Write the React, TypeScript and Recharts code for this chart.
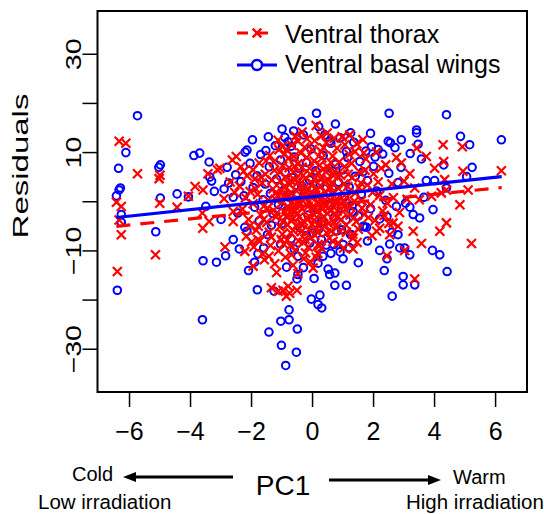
import React from "react";
import { ScatterChart, Scatter, XAxis, YAxis, ReferenceArea } from "recharts";

const FONT = "'Liberation Sans', Arial, sans-serif";
const RED = "#ff0000";
const BLUE = "#0000ff";

const xTicks = [-6, -4, -2, 0, 2, 4, 6];
const yTicks = [-30, -20, -10, 0, 10, 20, 30];
const yLabelled = [-30, -10, 10, 30];

// Ventral thorax residuals (red crosses)
const thoraxPoints: [number, number][] = [
  [-6.34, 12.3], [-6.12, 11.9], [-5.74, 5.7], [-5.03, 4.7], [-5.0, 5.4], [-6.43, -0.1],
  [-6.27, -0.95], [-6.34, -3.7], [-6.27, -6.7], [-6.4, -14.2], [-5.15, -10.8], [-5.01, -0.3],
  [-4.44, -1.1], [-4.07, 1.1], [-3.85, 3.1], [-3.59, 2.4], [-3.43, 5.7], [-3.12, 6.5],
  [-3.04, 6.8], [-2.63, 8.5], [-3.61, -2.3], [-3.6, -5.4], [-3.39, -4.0], [-2.6, -4.0],
  [-2.87, -9.2], [-2.26, 6.2], [-1.95, 6.5], [-0.99, 11.2], [-0.48, 12.3],
  [-2.22, -10.1], [-1.95, -13.1], [-2.17, -7.0], [-1.79, -7.7], [-1.64, -10.6], [-1.43, -11.1],
  [-1.18, -14.4], [-1.35, -17.5], [-1.13, -18.2], [-0.97, -18.0], [-0.86, -19.2], [-0.75, -18.6],
  [-0.8, -17.2], [-0.51, -18.0], [-0.48, -14.6], [-0.69, -10.8],
  [1.22, 13.6], [0.48, 14.0], [0.29, 13.4], [4.28, 11.6], [4.91, 11.2], [3.41, 10.9],
  [3.73, 9.2], [4.3, 8.2], [4.0, 6.8], [6.19, 6.3], [4.93, 6.2], [5.1, 2.4], [4.39, 2.4],
  [4.22, 1.8], [3.35, 2.8], [2.91, 7.9], [3.19, 5.7], [3.9, 1.1], [4.39, -4.3], [4.17, -6.0],
  [5.21, -8.5], [3.57, -8.5], [2.64, -4.3], [2.8, -5.0], [2.2, -5.4], [2.1, -6.0], [1.33, -7.4],
  [2.53, -6.7], [3.3, -6.0], [2.44, -11.0], [3.02, -9.9], [3.35, -15.7], [1.33, -9.6],
  [0.29, -9.4], [0.18, -8.7], [3.5, 0.4], [4.33, 4.5], [4.83, -0.6],
  [-2.4, 3.2], [-2.3, -1.5], [-2.2, 0.8], [-2.1, -3.6], [-2.05, 2.1], [-1.95, -0.4], [-1.9, 4.6],
  [-1.85, -5.8], [-1.8, 1.5], [-1.75, 7.9], [-1.7, -2.7], [-1.65, 3.8], [-1.6, -0.9], [-1.55, 5.6],
  [-1.5, -4.2], [-1.45, 0.3], [-1.4, 9.4], [-1.35, -7.2], [-1.3, 2.6], [-1.28, -1.8], [-1.25, 6.4],
  [-1.2, -3.1], [-1.15, 1.2], [-1.1, 10.6], [-1.08, -5.1], [-1.05, 4.1], [-1.0, -0.2], [-0.98, 7.3],
  [-0.95, -8.6], [-0.92, 2.9], [-0.9, -2.2], [-0.88, 5.0], [-0.85, 0.6], [-0.82, -4.7], [-0.8, 8.8],
  [-0.78, -1.1], [-0.75, 3.5], [-0.72, -6.3], [-0.7, 1.9], [-0.68, 11.5], [-0.65, -3.4], [-0.62, 6.1],
  [-0.6, -0.7], [-0.58, 4.4], [-0.55, -9.8], [-0.52, 2.2], [-0.5, -2.5], [-0.48, 7.7], [-0.45, 0.1],
  [-0.42, -5.5], [-0.4, 3.0], [-0.38, 9.9], [-0.35, -1.4], [-0.32, 5.3], [-0.3, -3.9], [-0.28, 1.6],
  [-0.25, -7.6], [-0.22, 4.8], [-0.2, -0.5], [-0.18, 12.8], [-0.15, 2.5], [-0.12, -2.9], [-0.1, 6.8],
  [-0.08, -12.2], [-0.05, 0.9], [-0.02, -4.6], [0.0, 3.7], [0.02, -1.2], [0.05, 8.3], [0.08, -6.8],
  [0.1, 1.4], [0.12, 15.5], [0.15, -2.1], [0.18, 5.9], [0.2, -0.3], [0.22, -9.0], [0.25, 3.3],
  [0.28, 10.2], [0.3, -3.6], [0.32, 1.0], [0.35, 6.6], [0.38, -5.0], [0.4, 2.0], [0.42, -0.9],
  [0.45, 12.0], [0.48, -2.4], [0.5, 4.5], [0.55, -7.4], [0.58, 0.4], [0.6, 8.0], [0.62, -1.7],
  [0.65, 3.9], [0.7, -4.1], [0.72, 6.2], [0.75, -0.1], [0.8, 10.9], [0.82, -3.0], [0.85, 2.7],
  [0.9, -6.0], [0.92, 5.4], [0.95, 0.7], [1.0, -2.0], [1.05, 7.1], [1.1, -4.8], [1.15, 3.1],
  [1.2, 9.6], [1.25, -1.0], [1.3, 4.9], [1.35, -3.3], [1.4, 1.8], [1.45, 11.8], [1.5, -5.6],
  [1.55, 6.0], [1.6, 0.2], [1.7, -2.6], [1.75, 8.7], [1.8, 3.4], [1.9, -0.6], [2.0, 5.7],
  [2.05, -3.8], [2.1, 10.1], [2.2, 1.3], [2.3, -1.9], [2.4, 7.5], [2.5, -4.4], [2.6, 3.6],
  [2.75, 9.0], [2.85, -2.2], [3.0, 4.2], [3.1, 0.5],
  [-0.96, 1.1], [-0.87, -3.0], [-0.77, 6.9], [-0.66, 0.0], [-0.57, -1.9], [-0.47, 4.0], [-0.37, -6.1],
  [-0.27, 2.8], [-0.17, -3.3], [-0.07, 5.6], [0.03, -0.8], [0.13, 2.3], [0.23, 7.4], [0.33, -1.5],
  [0.43, 4.2], [0.53, -4.4], [0.63, 1.7], [0.73, -2.8], [0.83, 5.1], [0.93, -0.4], [-0.99, -6.6],
  [-0.81, 3.8], [-0.61, 9.2], [-0.41, -0.3], [-0.21, 1.9], [-0.01, 10.6], [0.19, -4.9], [0.39, 0.3],
  [0.59, 3.0], [0.79, -5.3], [-1.22, 0.5], [-1.02, 2.4], [-0.74, -2.0], [-0.54, -4.9], [-0.34, 7.0],
  [-0.14, -0.9], [0.06, -3.7], [0.26, 4.7], [0.46, -6.3], [0.66, 9.3], [1.12, 0.9], [1.32, -6.6],
  [1.52, 2.9], [-1.48, -1.3], [-1.68, 5.0], [-1.88, 2.7], [-2.0, -8.2], [-2.6, -2.0], [-2.7, 4.0],
  [-2.5, 9.2], [-2.9, 0.6], [1.95, -6.9], [2.25, 6.8], [2.45, -0.3], [2.65, 0.8], [1.65, 12.6],
  [0.97, 13.2], [-0.23, -10.4], [0.12, -11.3], [-1.12, -10.0], [-0.34, 14.2], [0.67, -8.1], [1.02, -9.4],
  [-1.42, -6.2], [-1.33, 4.4], [-1.27, 8.1], [-1.17, -2.3], [-1.07, 6.0], [-0.97, -4.0], [-0.91, 9.7],
  [-0.83, -7.8], [-0.79, 1.4], [-0.71, 4.3], [-0.63, -5.9], [-0.59, 7.2], [-0.51, -0.1], [-0.44, -3.1],
  [-0.39, 5.7], [-0.31, -8.3], [-0.24, 0.6], [-0.19, 9.0], [-0.11, -5.7], [-0.04, 2.0], [0.04, -2.6],
  [0.09, 4.9], [0.16, -6.2], [0.21, 1.1], [0.27, -1.0], [0.31, 8.9], [0.37, -3.0], [0.44, 6.1],
  [0.51, -1.3], [0.56, 2.6], [0.61, -6.0], [0.69, 5.3], [0.74, 0.3], [0.81, -1.9], [0.87, 8.1],
  [0.94, -3.6], [1.03, 3.6], [1.08, -0.7], [1.17, 5.6], [1.23, -2.7], [1.28, 7.8], [1.37, 0.1],
  [1.43, -4.0], [1.58, 3.8], [1.62, -1.3], [1.72, 6.4], [1.83, -3.2], [1.97, 1.9], [2.15, 4.0],
  [2.35, -2.8], [-1.93, -9.2], [-1.73, -8.0], [-1.58, -11.8], [-1.38, -8.9], [-1.24, -12.6],
  [-1.03, -7.7], [-0.89, -11.3], [-0.73, -9.0], [-0.64, -12.9], [-0.46, -8.0], [-0.29, -11.6],
  [-0.14, -9.2], [0.02, -13.5], [0.17, -10.5], [-2.15, 5.3], [-2.35, 7.1], [-2.55, 1.9], [-2.05, -4.9],
  [-1.78, -5.0], [-1.52, 8.3], [-1.13, 12.5], [-0.86, 10.6], [-0.56, 13.3], [-0.26, 11.1], [0.07, 12.4],
  [0.36, 11.0], [0.71, 12.9], [1.06, 11.6], [1.39, 10.2], [1.68, 9.9], [0.14, -5.5], [-0.06, -7.3],
  [-0.33, -4.6], [-0.69, -3.8], [-1.2, 1.9], [-1.61, -3.6], [0.5, 7.0], [0.84, -8.4], [1.11, -6.2],
  [1.46, -8.3],
];

// Ventral basal wings residuals (blue circles)
const wingPoints: [number, number][] = [
  [-5.74, 17.5], [-6.12, 10.0], [-6.36, 6.8], [-6.3, 2.8], [-6.34, 2.4], [-6.43, 1.2], [-6.27, -2.6],
  [-6.27, -4.2], [-5.14, -6.1], [-4.99, 7.5], [-5.04, 7.0], [-4.99, 0.75], [-4.44, 1.6], [-4.07, 1.0],
  [-3.89, 9.4], [-3.7, 9.9], [-3.39, 8.1], [-3.37, 5.0], [-3.31, 4.2], [-3.22, 2.1], [-2.9, 2.6],
  [-3.5, -0.95], [-2.6, 0.9], [-2.8, 7.0], [-2.52, 5.5], [-2.21, 10.1], [-2.15, 10.5], [-1.97, 12.6],
  [-2.22, -5.2], [-1.53, 10.4], [-0.91, 13.1], [-0.62, 14.4], [0.13, 18.0],
  [-6.4, -18.0], [-3.59, -12.0], [-3.15, -12.3], [-2.85, -11.0], [-2.1, -14.0], [-1.79, -10.6],
  [-1.81, -17.9], [-1.26, -18.2], [-0.48, -11.1], [-0.09, -8.4], [0.18, -12.5], [-0.51, -15.7],
  [-0.48, -14.8], [-0.04, -19.8], [0.24, -19.0], [0.18, -20.9], [0.3, -21.6], [-3.61, -24.0],
  [-0.77, -22.0], [-1.04, -24.3], [-0.77, -24.0], [-1.43, -26.5], [-0.5, -25.9], [-1.02, -29.2],
  [-0.53, -30.6], [-0.88, -33.3],
  [0.29, -7.7], [0.34, -11.1], [0.51, -13.7], [0.56, -14.8], [0.73, -14.5], [0.73, -17.0],
  [1.11, -17.0], [1.0, -11.6], [0.7, -8.7], [1.0, -8.7], [1.27, -6.7], [2.53, -8.6], [2.44, -11.6],
  [2.86, -9.4], [3.02, -9.4], [3.19, -10.8], [3.93, -9.9], [4.17, -10.8], [4.41, -14.2], [2.97, -15.2],
  [2.97, -16.9], [3.35, -16.9], [2.61, -19.2],
  [2.51, 18.0], [4.39, 17.7], [3.41, 14.6], [3.41, 14.0], [4.85, 13.3], [5.15, 11.6], [6.19, 12.6],
  [2.91, 12.6], [2.48, 12.3], [2.55, 12.0], [3.46, 11.7], [3.57, 8.7], [4.3, 7.5], [5.23, 7.0],
  [3.73, 4.3], [4.0, 4.3], [4.39, 2.8], [5.05, 5.1], [3.65, 0.9], [3.95, -1.6], [1.93, 11.2],
  [2.15, 10.6], [1.11, 10.2], [0.56, 12.3], [2.75, -0.95], [3.19, -1.1], [3.3, -2.6], [3.51, -3.3],
  [2.44, -3.0], [1.66, -5.0], [1.77, -5.2], [0.95, -5.7], [1.25, -6.7], [2.8, -6.7], [1.33, -2.0],
  [-2.45, -2.3], [-2.35, 4.1], [-2.25, 1.2], [-2.15, -6.0], [-2.05, 7.8], [-1.95, 2.9], [-1.9, -1.1],
  [-1.82, 5.3], [-1.75, -3.9], [-1.7, 9.6], [-1.62, 0.4], [-1.55, 3.6], [-1.48, -6.7], [-1.42, 7.1],
  [-1.38, 1.7], [-1.3, -2.4], [-1.22, 11.4], [-1.18, 4.6], [-1.12, -0.6], [-1.05, 8.5], [-1.0, -4.4],
  [-0.95, 2.3], [-0.9, 6.0], [-0.85, -1.8], [-0.8, 12.2], [-0.76, 0.9], [-0.7, -7.5], [-0.66, 4.9],
  [-0.6, 9.1], [-0.56, -3.0], [-0.5, 1.8], [-0.45, 6.8], [-0.4, -5.3], [-0.36, 3.2], [-0.3, 13.6],
  [-0.26, -0.2], [-0.2, 8.0], [-0.15, -2.7], [-0.1, 4.4], [-0.05, 10.7], [0.0, -6.4], [0.05, 1.3],
  [0.1, 6.3], [0.15, -1.5], [0.2, 15.3], [0.25, 3.6], [0.3, -4.0], [0.35, 9.4], [0.4, 0.6],
  [0.45, -8.8], [0.5, 5.5], [0.55, -0.7], [0.6, 11.9], [0.65, 2.6], [0.7, -3.3], [0.75, 7.6],
  [0.8, -5.9], [0.85, 4.0], [0.9, 13.0], [0.95, -1.3], [1.0, 6.5], [1.05, 1.0], [1.1, -3.7],
  [1.15, 9.0], [1.2, 3.0], [1.3, -0.8], [1.35, 12.1], [1.4, 5.2], [1.5, -2.9], [1.55, 8.2],
  [1.6, 1.5], [1.7, -5.1], [1.75, 10.3], [1.8, 4.3], [1.9, -1.4], [2.0, 7.2], [2.1, 2.2],
  [2.2, -3.5], [2.3, 9.7], [2.4, 0.3], [2.5, 5.8], [2.6, -6.2], [2.7, 11.0], [2.8, 3.9], [2.9, 7.0],
  [3.05, -0.3], [3.2, 9.8], [-2.6, -7.7], [-2.75, 3.8], [-3.0, -3.6], [-1.6, -9.4], [0.9, -10.2],
  [-0.3, -13.4], [1.5, -12.4], [-1.0, 14.8], [1.9, 13.9], [-0.35, 16.3], [0.75, 15.8],
  [-1.35, -4.8], [-1.05, -8.6], [-0.6, -9.6], [-0.2, -6.9], [0.2, -5.6], [0.6, -10.5], [1.2, -9.3],
  [1.8, -8.0], [2.2, -9.9], [-1.9, -12.3], [-2.4, -9.6], [0.4, 13.6], [-0.7, 11.3], [1.25, 14.0],
  [2.05, 9.1], [-1.45, 13.2], [1.65, 6.1], [0.05, -15.6], [-0.85, -13.3], [2.35, -14.0],
];

// fitted regression lines (end points)
const thoraxFit: [number, number][] = [[-6.43, -5.0], [6.2, 2.9]];
const wingFit: [number, number][] = [[-6.43, -3.2], [6.2, 5.1]];

const toXY = (pts: [number, number][]) => pts.map(([x, y]) => ({ x, y }));

const fmt = (v: number) => (v < 0 ? `\u2212${-v}` : `${v}`);

const Cross = (props: any) => {
  const { cx, cy } = props;
  const h = 4.5;
  return (
    <g stroke={RED} strokeWidth={2.2}>
      <line x1={cx - h} y1={cy - h} x2={cx + h} y2={cy + h} />
      <line x1={cx - h} y1={cy + h} x2={cx + h} y2={cy - h} />
    </g>
  );
};

const Ring = (props: any) => (
  <circle cx={props.cx} cy={props.cy} r={3.8} fill="none" stroke={BLUE} strokeWidth={2} />
);

const NoDot = () => <g />;

const XTick = ({ x, y, payload }: any) => (
  <text x={x} y={y + 31} textAnchor="middle" fontSize={25} fontFamily={FONT} fill="#000">
    {fmt(payload.value)}
  </text>
);

const YTick = ({ x, y, payload }: any) => {
  if (!yLabelled.includes(payload.value)) return <g />;
  return (
    <text
      transform={`translate(${x},${y}) rotate(-90) scale(1.3,1)`}
      textAnchor="middle"
      fontSize={22}
      fontFamily={FONT}
      fill="#000"
    >
      {fmt(payload.value)}
    </text>
  );
};

export default function App() {
  return (
    <div style={{ position: "absolute", left: 0, top: 0, width: 544, height: 514, background: "#fff" }}>
      <ScatterChart width={544} height={514} margin={{ top: 11, right: 17, bottom: 0, left: 0 }}>
        <XAxis
          type="number"
          dataKey="x"
          domain={[-7.05, 7.03]}
          ticks={xTicks}
          axisLine={false}
          tickSize={15}
          tickLine={{ stroke: "#000", strokeWidth: 1.5 }}
          tick={<XTick />}
          height={122}
        />
        <YAxis
          type="number"
          dataKey="y"
          domain={[-38.7, 38.8]}
          ticks={yTicks}
          axisLine={false}
          tickSize={15}
          tickLine={{ stroke: "#000", strokeWidth: 1.5 }}
          tick={<YTick />}
          width={97.5}
        />
        <ReferenceArea
          x1={-7.05}
          x2={7.03}
          y1={-38.7}
          y2={38.8}
          fill="none"
          fillOpacity={0}
          stroke="#000"
          strokeWidth={2}
          ifOverflow="visible"
        />
        <Scatter data={toXY(wingPoints)} shape={<Ring />} isAnimationActive={false} />
        <Scatter data={toXY(thoraxPoints)} shape={<Cross />} isAnimationActive={false} />
        <Scatter
          data={toXY(wingFit)}
          shape={<NoDot />}
          line={{ stroke: BLUE, strokeWidth: 3.2 }}
          fill={BLUE}
          isAnimationActive={false}
        />
        <Scatter
          data={toXY(thoraxFit)}
          shape={<NoDot />}
          line={{ stroke: RED, strokeWidth: 3.2, strokeDasharray: "14 10" }}
          fill={RED}
          isAnimationActive={false}
        />
      </ScatterChart>
      <svg
        width={544}
        height={514}
        style={{ position: "absolute", left: 0, top: 0, pointerEvents: "none" }}
        fontFamily={FONT}
      >
        {/* legend */}
        <line x1={237} y1={33} x2={277} y2={33} stroke={RED} strokeWidth={3} strokeDasharray="11 9" />
        <line x1={252.7} y1={28.7} x2={261.3} y2={37.3} stroke={RED} strokeWidth={2.4} />
        <line x1={252.7} y1={37.3} x2={261.3} y2={28.7} stroke={RED} strokeWidth={2.4} />
        <text x={285} y={43} fontSize={25} fill="#000">Ventral thorax</text>
        <line x1={237} y1={65} x2={251} y2={65} stroke={BLUE} strokeWidth={3} />
        <line x1={263} y1={65} x2={277} y2={65} stroke={BLUE} strokeWidth={3} />
        <circle cx={257} cy={65} r={5} fill="none" stroke={BLUE} strokeWidth={2.4} />
        <text x={285} y={73} fontSize={25} fill="#000">Ventral basal wings</text>

        {/* y label */}
        <text
          transform="translate(28,166) rotate(-90) scale(1.5,1)"
          textAnchor="middle"
          fontSize={22}
          fill="#000"
        >
          Residuals
        </text>

        {/* x annotations */}
        <text x={72} y={481} fontSize={20} fill="#000">Cold</text>
        <line x1={133} y1={477} x2={233} y2={477} stroke="#000" strokeWidth={3} />
        <polygon points="123,477 136,472 136,482" fill="#000" />
        <text x={283} y={495} fontSize={28} textAnchor="middle" fill="#000">PC1</text>
        <line x1={329} y1={480} x2={431} y2={480} stroke="#000" strokeWidth={3} />
        <polygon points="441,480 428,475 428,485" fill="#000" />
        <text x={453} y={484} fontSize={20} fill="#000">Warm</text>
        <text x={38} y={509} fontSize={20.5} fill="#000">Low irradiation</text>
        <text x={406} y={509} fontSize={20.5} fill="#000">High irradiation</text>
      </svg>
    </div>
  );
}
